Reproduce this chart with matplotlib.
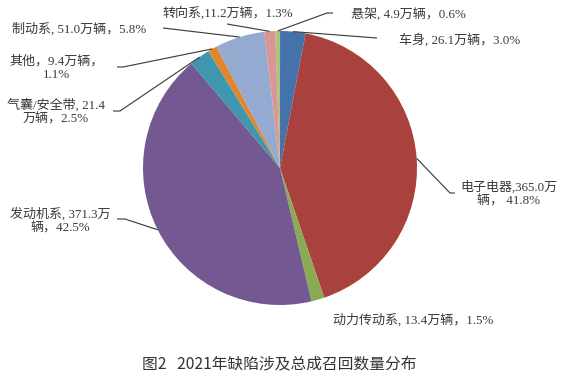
import numpy as np
import matplotlib
matplotlib.use("Agg")
import matplotlib.pyplot as plt

# 2021年缺陷涉及总成召回数量 (万辆), clockwise from top
parts = ["悬架", "车身", "电子电器", "动力传动系", "发动机系",
         "气囊/安全带", "其他", "制动系", "转向系"]
volumes = [4.9, 26.1, 365.0, 13.4, 371.3, 21.4, 9.4, 51.0, 11.2]
shares = ["0.6%", "3.0%", "41.8%", "1.5%", "42.5%", "2.5%", "1.1%", "5.8%", "1.3%"]
colors = ["#a9c47f", "#4672ab", "#a9423f", "#8aab51", "#735892",
          "#3e97ad", "#e0862f", "#94aad0", "#d99694"]

W, H = 563, 375
label_font = ["Liberation Serif", "Noto Sans CJK SC"]
text_color = "#3a3a3a"
line_color = "#404040"


def px(x, y):
    return x, H - y


fig = plt.figure(figsize=(W / 100, H / 100), dpi=100)
ax = fig.add_axes([0, 0, 1, 1])

cx, cy = px(280, 168)
r = 137
start = 92
wedges, _ = ax.pie(volumes, colors=colors, startangle=start, counterclock=False,
                   center=(cx, cy), radius=r, wedgeprops=dict(linewidth=0))
ax.set_xlim(0, W)
ax.set_ylim(0, H)
ax.set_aspect("equal")
ax.axis("off")

# label texts
texts = [
    f"{parts[0]}, {volumes[0]}万辆，{shares[0]}",
    f"{parts[1]}, {volumes[1]}万辆，{shares[1]}",
    f"{parts[2]},{volumes[2]}万\n辆， {shares[2]}",
    f"{parts[3]}, {volumes[3]}万辆，{shares[3]}",
    f"{parts[4]}, {volumes[4]}万\n辆，{shares[4]}",
    f"{parts[5]}, {volumes[5]}\n万辆，{shares[5]}",
    f"{parts[6]}，{volumes[6]}万辆，\n{shares[6]}",
    f"{parts[7]}, {volumes[7]}万辆，{shares[7]}",
    f"{parts[8]},{volumes[8]}万辆，{shares[8]}",
]

# text anchor (pixel), alignment, leader path (pixel points after wedge edge)
layout = [
    ((351, 14), "left", [(327, 13), (333, 13)]),
    ((399, 40), "left", [(377, 38)]),
    ((509, 194), "center", [(450, 193), (455, 193)]),
    ((413, 320), "center", None),
    ((60, 221), "center", [(125, 219), (117, 219)]),
    ((56, 112), "center", [(120, 111), (113, 111)]),
    ((56, 68), "center", [(123, 67), (117, 67)]),
    ((79, 29), "center", [(163, 28)]),
    ((228, 13), "center", [(227, 24)]),
]

for w, txt, (pos, ha, path) in zip(wedges, texts, layout):
    mid = np.radians((w.theta1 + w.theta2) / 2)
    ex = cx + r * np.cos(mid)
    ey = cy + r * np.sin(mid)
    if path is not None:
        xs = [ex] + [p[0] for p in path]
        ys = [ey] + [H - p[1] for p in path]
        ax.plot(xs, ys, color=line_color, lw=0.85, solid_capstyle="butt")
    tx, ty = px(*pos)
    ax.text(tx, ty, txt, ha=ha, va="center", fontsize=9.4, family=label_font,
            color=text_color, linespacing=1.2, multialignment="center")

ax.text(W / 2 - 2, H - 365, "图2   2021年缺陷涉及总成召回数量分布", ha="center", va="center",
        fontsize=11.3, family=["Noto Sans CJK SC", "DejaVu Sans"], color="#333333")

fig.savefig("out.png", dpi=100)
